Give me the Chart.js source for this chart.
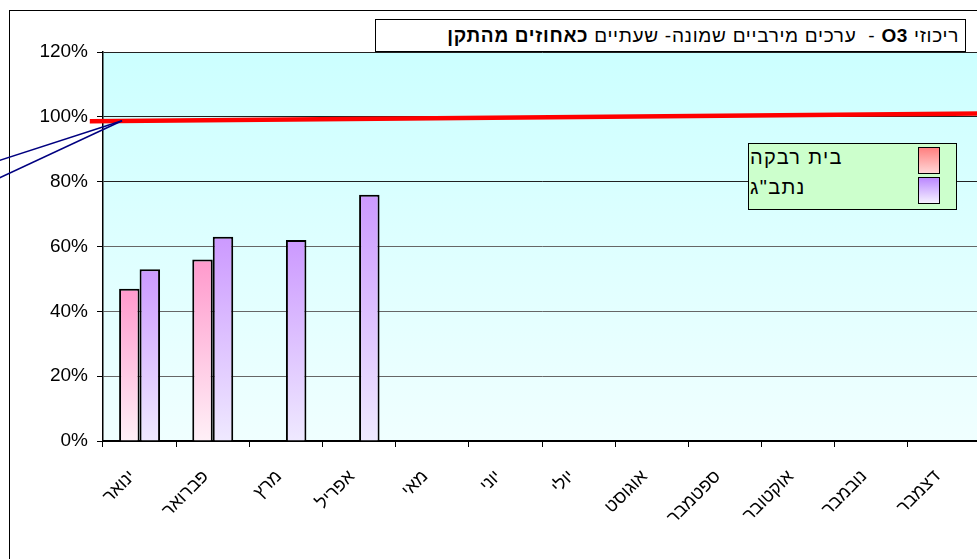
<!DOCTYPE html>
<html>
<head>
<meta charset="utf-8">
<script src="https://cdn.jsdelivr.net/npm/chart.js@4.4.1/dist/chart.umd.min.js"></script>
<style>
    html, body { margin: 0; padding: 0; background: #fff; overflow: hidden; width: 977px; height: 559px; }
    #frame { position: absolute; left: 9px; top: 10px; width: 1000px; height: 600px; border-left: 1px solid #000; border-top: 1px solid #000; }
    #wrap { position: absolute; left: 0; top: 0; width: 990px; height: 559px; }
    #titleBox {
        position: absolute; left: 375px; top: 19px; width: 591px; height: 33px;
        border: 1px solid #000; background: #fff; direction: rtl; text-align: right;
        font: 19px "Liberation Sans", Arial, sans-serif; letter-spacing: 0.7px;
        line-height: 32px; padding-right: 6px; box-sizing: border-box; white-space: nowrap;
    }
    #legendBox {
        position: absolute; left: 748px; top: 143px; width: 209px; height: 67px;
        border: 1px solid #000; background: #ccffcc; box-sizing: border-box;
        font: 20px "Liberation Sans", Arial, sans-serif; letter-spacing: 1.3px;
    }
    .lgRow { position: absolute; left: 0; width: 100%; height: 28px; }
    .lgText { position: absolute; left: 1px; top: 1px; direction: rtl; white-space: nowrap; }
    .lgSwatch { position: absolute; left: 169px; top: 2px; width: 20px; height: 25px; border: 1px solid #000; }
</style>
</head>
<body>
<div id="frame"></div>
<div id="wrap"><canvas id="o3Chart" width="990" height="559"></canvas></div>
<div id="titleBox">ריכוזי <b>O3</b> -&nbsp; ערכים מירביים שמונה- שעתיים <b>כאחוזים מהתקן</b></div>
<div id="legendBox"></div>
<script>
const months = ['ינואר', 'פברואר', 'מרץ', 'אפריל', 'מאי', 'יוני', 'יולי', 'אוגוסט', 'ספטמבר', 'אוקטובר', 'נובמבר', 'דצמבר'];
const seriesNames = ['בית רבקה', 'נתב"ג'];
const beitRivka = [47, 56, null, null, null, null, null, null, null, null, null, null];
const natbag = [53, 63, 62, 76, null, null, null, null, null, null, null, null];
const yMin = 0;
const yMax = 120;
const yStep = 20;

// red standard line (category index units on x, percent on y), slightly sloped as drawn
const standardX = [-0.68, 11.5];
const standardY = [98.6, 101.0];
// two stray pointer lines on the left edge
const pointerX = [-1.95, -0.24];
const pointerAY = [86.3, 98.8];
const pointerBY = [80.8, 98.8];

const FONT = '"Liberation Sans", Arial, sans-serif';

function barFill(topColor, bottomColor) {
    return (ctx) => {
        const chart = ctx.chart;
        const area = chart.chartArea;
        const v = ctx.raw;
        if (!area || v == null) return topColor;
        const yTop = chart.scales.y.getPixelForValue(v);
        const g = chart.ctx.createLinearGradient(0, yTop, 0, area.bottom);
        g.addColorStop(0, topColor);
        g.addColorStop(1, bottomColor);
        return g;
    };
}

const plotBackground = {
    id: 'plotBackground',
    beforeDraw(chart) {
        const a = chart.chartArea;
        const c = chart.ctx;
        const g = c.createLinearGradient(0, a.top, 0, a.bottom);
        g.addColorStop(0, '#ccffff');
        g.addColorStop(1, '#f0ffff');
        c.save();
        c.fillStyle = g;
        c.fillRect(a.left, a.top, a.right - a.left, a.bottom - a.top);
        c.restore();
    }
};

function strokeThrough(chart, xs, ys, color, width) {
    const sx = chart.scales.x;
    const sy = chart.scales.y;
    const c = chart.ctx;
    c.save();
    c.strokeStyle = color;
    c.lineWidth = width;
    c.beginPath();
    xs.forEach((x, i) => {
        const px = sx.getPixelForValue(x);
        const py = sy.getPixelForValue(ys[i]);
        if (i === 0) c.moveTo(px, py); else c.lineTo(px, py);
    });
    c.stroke();
    c.restore();
}

const drawnLines = {
    id: 'drawnLines',
    afterDatasetsDraw(chart) {
        strokeThrough(chart, standardX, standardY, '#ff0000', 4.5);
        strokeThrough(chart, pointerX, pointerAY, '#000080', 1.5);
        strokeThrough(chart, pointerX, pointerBY, '#000080', 1.5);
    }
};

const pinkTop = '#ff99cc', pinkBottom = '#fff0f7';
const purpleTop = '#cc99ff', purpleBottom = '#efe9ff';

const chart = new Chart(document.getElementById('o3Chart'), {
    type: 'bar',
    data: {
        labels: months,
        datasets: [
            {
                label: seriesNames[0],
                data: beitRivka,
                backgroundColor: barFill(pinkTop, pinkBottom),
                borderColor: '#000',
                borderWidth: 2,
                categoryPercentage: 0.56,
                barPercentage: 1.0
            },
            {
                label: seriesNames[1],
                data: natbag,
                backgroundColor: barFill(purpleTop, purpleBottom),
                borderColor: '#000',
                borderWidth: 2,
                categoryPercentage: 0.56,
                barPercentage: 1.0
            }
        ]
    },
    options: {
        responsive: false,
        animation: false,
        layout: { padding: { left: 0, top: 52, right: 9, bottom: 0 } },
        plugins: {
            legend: { display: false },
            title: { display: false },
            tooltip: { enabled: false }
        },
        scales: {
            x: {
                type: 'category',
                afterFit: (scale) => { scale.height = 118; },
                border: { display: true, color: '#000', width: 2 },
                grid: { offset: true, drawOnChartArea: false, drawTicks: true, tickLength: 6, color: '#000' },
                ticks: {
                    color: '#000',
                    font: { family: FONT, size: 18 },
                    maxRotation: 45,
                    minRotation: 45,
                    autoSkip: false,
                    padding: 19,
                    labelOffset: -7
                }
            },
            y: {
                min: yMin,
                max: yMax,
                afterFit: (scale) => { scale.width = 103; },
                border: { display: true, color: '#000', width: 1.5 },
                grid: {
                    color: (ctx) => (ctx.tick && ctx.tick.value >= 80 ? '#222' : '#666'),
                    lineWidth: 1,
                    tickLength: 6,
                    tickColor: '#000'
                },
                ticks: {
                    stepSize: yStep,
                    color: '#000',
                    padding: 9,
                    font: { family: FONT, size: 19 },
                    callback: (v) => v + '%'
                }
            }
        }
    },
    plugins: [plotBackground, drawnLines]
});

// html legend built from the bar series names
const legendBox = document.getElementById('legendBox');
const swatches = [['#ff8080', '#ffd6d6'], ['#bb88ff', '#f6f2ff']];
seriesNames.forEach((name, i) => {
    const row = document.createElement('div');
    row.className = 'lgRow';
    row.style.top = (i * 30 + 1) + 'px';
    const txt = document.createElement('span');
    txt.className = 'lgText';
    txt.textContent = name;
    const sw = document.createElement('span');
    sw.className = 'lgSwatch';
    sw.style.background = 'linear-gradient(' + swatches[i][0] + ', ' + swatches[i][1] + ')';
    row.appendChild(txt);
    row.appendChild(sw);
    legendBox.appendChild(row);
});
</script>
</body>
</html>
